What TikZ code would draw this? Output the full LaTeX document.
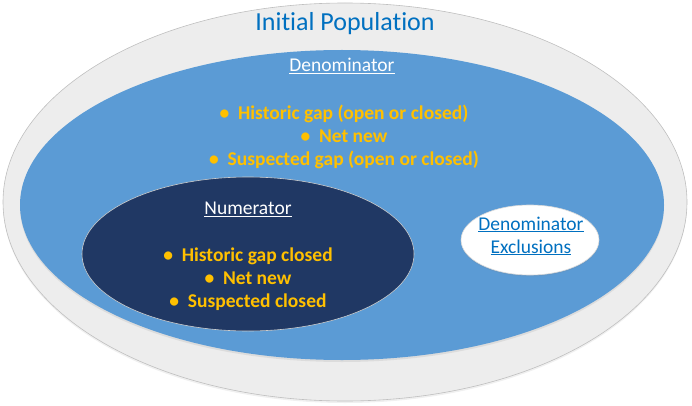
\documentclass[tikz,border=0pt]{standalone}
\usepackage{fontspec}
\setmainfont[Ligatures=NoCommon]{Carlito}
\usetikzlibrary{shadows,shapes.geometric}
\definecolor{outerfill}{HTML}{EDEDED}
\definecolor{outerline}{HTML}{BFBFBF}
\definecolor{denblue}{HTML}{5B9BD5}
\definecolor{numnavy}{HTML}{203864}
\definecolor{gold}{HTML}{FFC000}
\definecolor{linkblue}{HTML}{0070C0}
\tikzset{
  region/.style={ellipse, draw=outerline, line width=0.6pt, inner sep=0pt},
  bul/.style={text=gold, font=\bfseries\fontsize{19.5}{23}\selectfont, align=center},
  ttl/.style={font=\fontsize{19.5}{23}\selectfont, align=center},
}
\newcommand{\ul}[1]{\underline{#1}}
\newcommand{\bl}{\textbullet\hspace{0.45em}}
\begin{document}
\begin{tikzpicture}[x=1pt,y=-1pt]
\useasboundingbox (0,0) rectangle (692,406);
\node[region, fill=outerfill, minimum width=684pt, minimum height=398pt,
      drop shadow={shadow xshift=0pt, shadow yshift=-2pt, opacity=0.12}] (outer) at (345,202) {};
\node[region, draw=none, fill=denblue, minimum width=644pt, minimum height=310pt,
      drop shadow={shadow xshift=0pt, shadow yshift=-2pt, opacity=0.15}] (den) at (342,205) {};
\node[region, draw=outerline!80, fill=numnavy, minimum width=332pt, minimum height=154pt] (num) at (248,254) {};
\node[region, draw=outerline!60, fill=white, minimum width=138pt, minimum height=70pt,
      drop shadow={shadow xshift=0pt, shadow yshift=-1.5pt, opacity=0.15}] (excl) at (530,240) {};

\node[text=linkblue, font=\fontsize{26}{30}\selectfont] (title) at (345,24) {Initial Population};
\node[ttl, text=white] (dentitle) at (342,66) {\ul{Denominator}};
\node[bul] (denlist) at (344,137) {\bl Historic gap (open or closed)\\ \bl Net new\\ \bl Suspected gap (open or closed)};
\node[ttl, text=white] (numtitle) at (248,209) {\ul{Numerator}};
\node[bul] (numlist) at (248,279) {\bl Historic gap closed\\ \bl Net new\\ \bl Suspected closed};
\node[ttl, text=linkblue] (excltitle) at (531,236) {\ul{Denominator}\\ \ul{Exclusions}};
\end{tikzpicture}
\end{document}
